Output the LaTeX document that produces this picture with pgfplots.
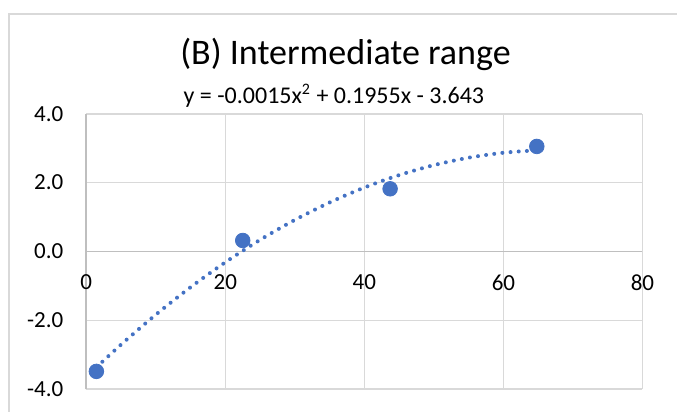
\documentclass[border=0pt]{standalone}
\usepackage{pgfplots}
\pgfplotsset{compat=1.18}
\usepackage{fontspec}
\setmainfont{Carlito}
\definecolor{ser}{HTML}{4472C4}
\definecolor{gridc}{HTML}{D9D9D9}
\definecolor{axl}{HTML}{BFBFBF}
\begin{document}
\begin{tikzpicture}
\path[use as bounding box] (-43.15pt,-11.35pt) rectangle (295.35pt,194.65pt);
\fill[white] (-43.15pt,-11.35pt) rectangle (295.35pt,194.65pt);
\draw[gridc, line width=1pt] (-38.8pt,-30pt) -- (-38.8pt,187.65pt) -- (320pt,187.65pt);
\begin{axis}[
  at={(0pt,0pt)}, anchor=south west,
  scale only axis, width=278.1pt, height=137.8pt,
  xmin=0, xmax=80, ymin=-4, ymax=4,
  axis x line=middle, axis y line=left,
  axis line style={draw=axl, line width=0.8pt, -},
  grid=major, major grid style={draw=gridc, line width=0.8pt},
  major tick length=0pt,
  xtick={0,20,40,60,80}, xticklabels={0,20,40,60,80},
  ytick={-4,-2,0,2,4}, yticklabels={-4.0,-2.0,0.0,2.0,4.0},
  hide obscured x ticks=false, hide obscured y ticks=false,
  ticklabel style={font=\fontsize{11.5}{13}\selectfont, text=black},
  xticklabel style={anchor=north, yshift=-8pt},
  yticklabel style={anchor=east, xshift=-8pt},
]
\addplot[ser, line width=2pt, line cap=round, dash pattern=on 0pt off 4.1pt, smooth] coordinates {
 (1.45,-3.363) (5,-2.702) (10,-1.833) (15,-1.037) (20,-0.313) (25,0.338)
 (30,0.917) (35,1.423) (40,1.857) (45,2.218) (50,2.507) (55,2.723)
 (60,2.867) (64.8,2.937)
};
\addplot[only marks, mark=*, mark size=3.65pt, mark options={fill=ser, draw=ser}] coordinates {
 (1.45,-3.48) (22.5,0.32) (43.7,1.82) (64.8,3.05)
};
\end{axis}
\node[anchor=base, font=\fontsize{18}{22}\selectfont, inner sep=0pt] at (129.6pt,162.5pt) {(B) Intermediate range};
\node[anchor=base, font=\fontsize{12}{14}\selectfont, inner sep=0pt] at (123.8pt,142.9pt) {y = -0.0015x\textsuperscript{2} + 0.1955x - 3.643};
\end{tikzpicture}
\end{document}
